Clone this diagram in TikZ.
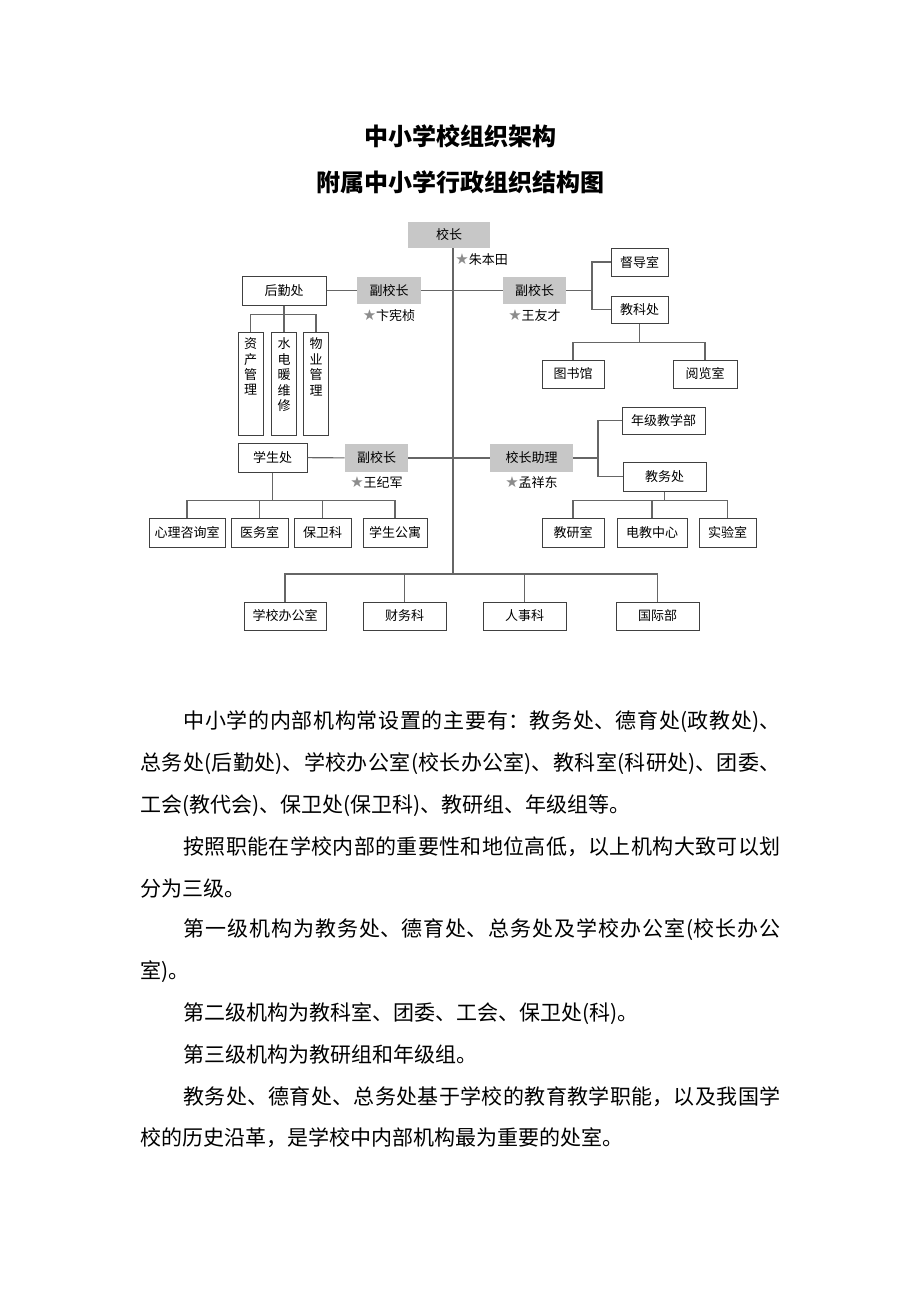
\documentclass[tikz,border=0pt]{standalone}
\usepackage{fontspec}
\setmainfont{Noto Sans CJK SC}
\newfontfamily\symfont{DejaVu Sans}
\usetikzlibrary{positioning}
\XeTeXlinebreaklocale "zh"
\XeTeXlinebreakskip=0pt plus 2pt minus 0.2pt
\newcommand{\chartfont}{\fontsize{6.5pt}{7.2pt}\selectfont}
\newcommand{\vfont}{\fontsize{6.5pt}{7.7pt}\selectfont}
\newcommand{\bodyfont}{\fontsize{10.5pt}{12pt}\selectfont}
\newcommand{\titlefont}{\fontsize{12pt}{14pt}\selectfont\bfseries}
\newcommand{\staricon}{{\symfont\fontsize{7.5pt}{8pt}\selectfont\color{black!45}★}}

\begin{document}
\begin{tikzpicture}[
  x=0.5pt, y=-0.5pt,
  box/.style={draw=black!75, line width=0.5pt, fill=white, inner sep=0pt, font=\chartfont},
  head/.style={fill=black!22, inner sep=0pt, font=\chartfont},
  vtxt/.style={font=\vfont, align=center, inner sep=0pt},
  who/.style={font=\chartfont, inner sep=0pt},
  ln/.style={draw=black!60, line width=0.55pt},
  para/.style={anchor=west, inner sep=0pt, font=\bodyfont, text width=320pt, align=justify},
  ind/.style={para, text width=298.5pt},
  plain/.style={anchor=west, inner sep=0pt, font=\bodyfont},
]
\fill[white] (0,0) rectangle (920,1302);
\useasboundingbox (0,0) rectangle (920,1302);

% ---------------- titles ----------------
\node[font=\titlefont] (t1) at (460,136) {中小学校组织架构};
\node[font=\titlefont] (t2) at (460,182) {附属中小学行政组织结构图};

% ---------------- head ----------------
\node[head, minimum width=41pt, minimum height=13pt] (xz) at (449,235) {校长};
\coordinate (spine) at (453,574);
\coordinate (top) at (xz.south -| spine);
\node[who, below right=2.5pt and 1pt of top] (n0) {\staricon 朱本田};

% ---------------- first row ----------------
\node[box, minimum width=42pt, minimum height=14.5pt] (houqin) at (284,290.5) {后勤处};
\node[head, minimum width=32pt, minimum height=13.5pt] (fxz1) at (389,290.5) {副校长};
\node[head, minimum width=31.5pt, minimum height=13.5pt] (fxz2) at (534.5,290.5) {副校长};
\node[who, below=2.5pt of fxz1] (n1) {\staricon 卞宪桢};
\node[who, below=2.5pt of fxz2] (n2) {\staricon 王友才};

\node[box, minimum width=28.5pt, minimum height=14pt] (dudao) at (639.5,262) {督导室};
\node[box, minimum width=28.5pt, minimum height=13.5pt] (jiaoke) at (639.5,309.5) {教科处};
\node[box, minimum width=31pt, minimum height=14pt] (tushu) at (573,374) {图书馆};
\node[box, minimum width=32pt, minimum height=14pt] (yuelan) at (705,374) {阅览室};

\node[box, minimum width=12.5pt, minimum height=51.5pt] (zichan) at (250.5,383.5) {};
\node[box, minimum width=12.5pt, minimum height=51.5pt] (shuidian) at (284,383.5) {};
\node[box, minimum width=12.5pt, minimum height=51.5pt] (wuye) at (316,383.5) {};
\node[vtxt, below=3pt of zichan.north] (zichan-t) {资\\产\\管\\理};
\node[vtxt, below=3pt of shuidian.north] (shuidian-t) {水\\电\\暖\\维\\修};
\node[vtxt, below=3pt of wuye.north] (wuye-t) {物\\业\\管\\理};

% ---------------- second row ----------------
\node[box, minimum width=34.5pt, minimum height=14.5pt] (xuesheng) at (272.5,457.5) {学生处};
\node[head, minimum width=31.5pt, minimum height=14pt] (fxz3) at (376.5,458) {副校长};
\node[head, minimum width=41.5pt, minimum height=14pt] (zhuli) at (531.5,458) {校长助理};
\node[who, below=2pt of fxz3] (n3) {\staricon 王纪军};
\node[who, below=2pt of zhuli] (n4) {\staricon 孟祥东};

\node[box, minimum width=41.5pt, minimum height=13.5pt] (nianji) at (663.5,420.5) {年级教学部};
\node[box, minimum width=41.5pt, minimum height=14.5pt] (jiaowu) at (664.5,476.5) {教务处};
\node[box, minimum width=31pt, minimum height=14.5pt] (jiaoyan) at (573,532.5) {教研室};
\node[box, minimum width=35pt, minimum height=14.5pt] (dianjiao) at (652,532.5) {电教中心};
\node[box, minimum width=28.5pt, minimum height=14.5pt] (shiyan) at (727.5,532.5) {实验室};

\node[box, minimum width=38pt, minimum height=14.5pt] (xinli) at (187,532.5) {心理咨询室};
\node[box, minimum width=28.5pt, minimum height=14.5pt] (yiwu) at (259.5,532.5) {医务室};
\node[box, minimum width=28.5pt, minimum height=14.5pt] (baowei) at (322.5,532.5) {保卫科};
\node[box, minimum width=32pt, minimum height=14.5pt] (gongyu) at (395,532.5) {学生公寓};

% ---------------- bottom row ----------------
\node[box, minimum width=41pt, minimum height=14pt] (xbgs) at (285,616) {学校办公室};
\node[box, minimum width=41.5pt, minimum height=14pt] (caiwu) at (404.5,616) {财务科};
\node[box, minimum width=41.5pt, minimum height=14pt] (renshi) at (524.5,616) {人事科};
\node[box, minimum width=41.5pt, minimum height=14pt] (guoji) at (657.5,616) {国际部};

% ---------------- connectors ----------------
\draw[ln] (top) -- (spine);
\draw[ln] (houqin) -- (fxz1);
\draw[ln] (fxz1) -- (fxz2);
\coordinate (br1) at (592,290.5);
\draw[ln] (fxz2) -- (br1);
\draw[ln] (dudao.west) -| (br1) |- (jiaoke.west);
\draw[ln] (jiaoke.south) -- ++(0,19) coordinate (kb);
\draw[ln] (tushu.north) |- (kb) -| (yuelan.north);
\draw[ln] (houqin.south) -- ++(0,9) coordinate (hb);
\draw[ln] (zichan.north) |- (hb) -| (wuye.north);
\draw[ln] (hb) -- (shuidian.north);

\draw[ln] (xuesheng) -- (fxz3);
\draw[ln] (fxz3) -- (zhuli);
\coordinate (br2) at (598,458);
\draw[ln] (zhuli) -- (br2);
\draw[ln] (nianji.west) -| (br2) |- (jiaowu.west);
\draw[ln] (jiaowu.south) -- ++(0,9) coordinate (wb);
\draw[ln] (jiaoyan.north) |- (wb) -| (shiyan.north);
\draw[ln] (dianjiao.north) -- (dianjiao.north |- wb);
\draw[ln] (xuesheng.south) -- ++(0,28) coordinate (sb);
\draw[ln] (xinli.north) |- (sb) -| (gongyu.north);
\draw[ln] (yiwu.north) -- (yiwu.north |- sb);
\draw[ln] (baowei.north) -- (baowei.north |- sb);

\draw[ln] (xbgs.north) |- (spine) -| (guoji.north);
\draw[ln] (caiwu.north) -- (caiwu.north |- spine);
\draw[ln] (renshi.north) -- (renshi.north |- spine);

% ---------------- text ----------------
\node[ind] (p1) at (183,722) {\parfillskip=0pt 中小学的内部机构常设置的主要有：教务处、德育处(政教处)、\par};
\node[para] (p2) at (140,763.6) {\parfillskip=0pt 总务处(后勤处)、学校办公室(校长办公室)、教科室(科研处)、团委、\par};
\node[plain] (p3) at (140,805.2) {工会(教代会)、保卫处(保卫科)、教研组、年级组等。};
\node[ind] (p4) at (183,846.8) {\parfillskip=0pt 按照职能在学校内部的重要性和地位高低，以上机构大致可以划\par};
\node[plain] (p5) at (140,888.4) {分为三级。};
\node[ind] (p6) at (183,930) {\parfillskip=0pt 第一级机构为教务处、德育处、总务处及学校办公室(校长办公\par};
\node[plain] (p7) at (140,971.6) {室)。};
\node[plain] (p8) at (183,1013.2) {第二级机构为教科室、团委、工会、保卫处(科)。};
\node[plain] (p9) at (183,1054.8) {第三级机构为教研组和年级组。};
\node[ind] (p10) at (183,1096.4) {\parfillskip=0pt 教务处、德育处、总务处基于学校的教育教学职能，以及我国学\par};
\node[plain] (p11) at (140,1138) {校的历史沿革，是学校中内部机构最为重要的处室。};
\end{tikzpicture}
\end{document}
